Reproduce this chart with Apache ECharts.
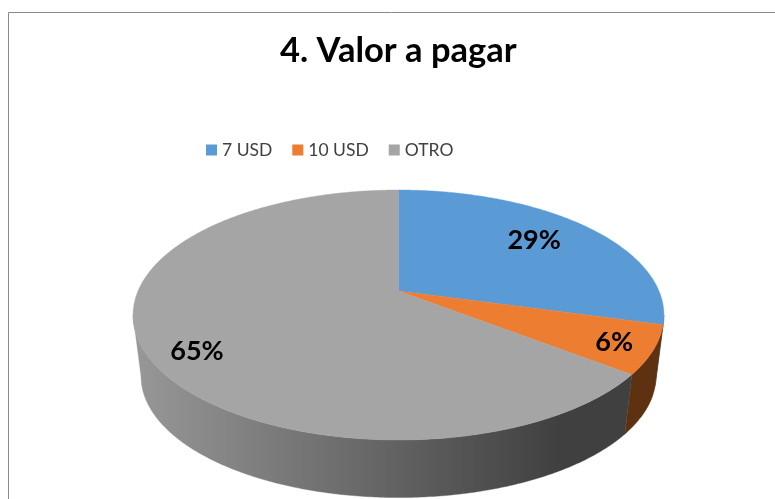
<!DOCTYPE html>
<html>
<head>
<meta charset="utf-8">
<style>html,body{margin:0;padding:0;background:#fff}#c{width:775px;height:499px}</style>
<script src="https://cdn.jsdelivr.net/npm/echarts@6/dist/echarts.min.js"></script>
</head>
<body>
<div id="c"></div>
<script>
const titleText = '4. Valor a pagar';
const categories = ['7 USD', '10 USD', 'OTRO'];
const shares = [29.3, 6.2, 64.5];

const faceColors = ['#5B9BD5', '#ED7D31', '#A5A5A5'];
const labelTweaks = [{ r: 0.73, dAngle: -1.8 }, { r: 0.86, dAngle: 0.4 }, { r: 0.84, dAngle: -6.7 }];

// Perspective projection of a flat disc, expressed in pixels of the 775x499 canvas
const cx = 398.5, topY = 291, bottomY = 353, depthScale = 0.97;
const k = 0.192, semiX = 260.5, semiY = 120.4;

function project(angle, r, baseY, scale) {
  const u = Math.sin(angle) * r, v = -Math.cos(angle) * r, w = 1 - k * v;
  return [cx + scale * semiX * u / w, baseY + scale * semiY * v / w];
}
function arc(a0, a1, baseY, scale) {
  const n = Math.max(2, Math.ceil((a1 - a0) / 0.01)), pts = [];
  for (let i = 0; i <= n; i++) pts.push(project(a0 + (a1 - a0) * i / n, 1, baseY, scale));
  return pts;
}
const total = shares.reduce((a, b) => a + b, 0);
const TAU = Math.PI * 2;
function sliceAngles(idx) {
  let before = 0;
  for (let i = 0; i < idx; i++) before += shares[i];
  return [before / total * TAU, (before + shares[idx]) / total * TAU];
}
// The wall is visible on the near side of the disc only, between the two silhouette points
const edgeRight = Math.PI - Math.acos(k), edgeLeft = Math.PI + Math.acos(k);

function sideFill(idx) {
  if (idx === 2) {
    return { type: 'linear', x: 133, y: 0, x2: 560, y2: 0, global: true,
      colorStops: [{ offset: 0, color: '#989898' }, { offset: 1, color: '#404040' }] };
  }
  return idx === 1 ? '#5E3110' : '#37597C';
}

function renderSlice(params, api) {
  const idx = params.seriesIndex;
  const [a0, a1] = sliceAngles(idx);
  const children = [];
  const s0 = Math.max(a0, edgeRight), s1 = Math.min(a1, edgeLeft);
  if (s1 > s0) {
    const upper = arc(s0, s1, topY, 1), lower = arc(s0, s1, bottomY, depthScale).reverse();
    const fill = sideFill(idx);
    children.push({ type: 'polygon', shape: { points: upper.concat(lower) },
      style: { fill: fill, stroke: fill, lineWidth: 0.4 } });
  }
  const face = [[cx, topY]].concat(arc(a0, a1, topY, 1));
  const color = faceColors[idx];
  children.push({ type: 'polygon', shape: { points: face }, style: { fill: color, stroke: color, lineWidth: 0.4 } });
  const tweak = labelTweaks[idx];
  const p = project((a0 + a1) / 2 + tweak.dAngle * Math.PI / 180, tweak.r, topY, 1);
  children.push({ type: 'text', x: p[0], y: p[1], z2: 10, style: {
    text: Math.round(shares[idx]) + '%', fontFamily: 'Lato', fontWeight: 'bold', fontSize: 27,
    fill: '#000', align: 'center', verticalAlign: 'middle' } });
  return { type: 'group', children: children };
}

const chart = echarts.init(document.getElementById('c'), null, { renderer: 'canvas' });
chart.setOption({
  animation: false,
  backgroundColor: '#fff',
  title: { text: titleText, left: 275, top: 28,
    textStyle: { fontFamily: 'Lato', fontWeight: 'bold', fontSize: 34.5, color: '#000' } },
  legend: {
    data: categories, left: 201, top: 136, icon: 'rect', itemWidth: 11, itemHeight: 11, itemGap: 20,
    textStyle: { fontFamily: 'Lato', fontSize: 17.5, color: '#404040', padding: [0, 0, 0, 0] },
    selectedMode: false
  },
  graphic: [
    { type: 'polyline', silent: true, shape: { points: [[8.5, 499], [8.5, 12.5], [775, 12.5]] },
      style: { fill: null, stroke: '#898989', lineWidth: 1 } }
  ],
  series: categories.map((name, i) => ({
    type: 'custom', name: name, coordinateSystem: 'none', silent: true,
    itemStyle: { color: faceColors[i] },
    data: [shares[i]],
    renderItem: renderSlice
  }))
});
</script>
</body>
</html>
